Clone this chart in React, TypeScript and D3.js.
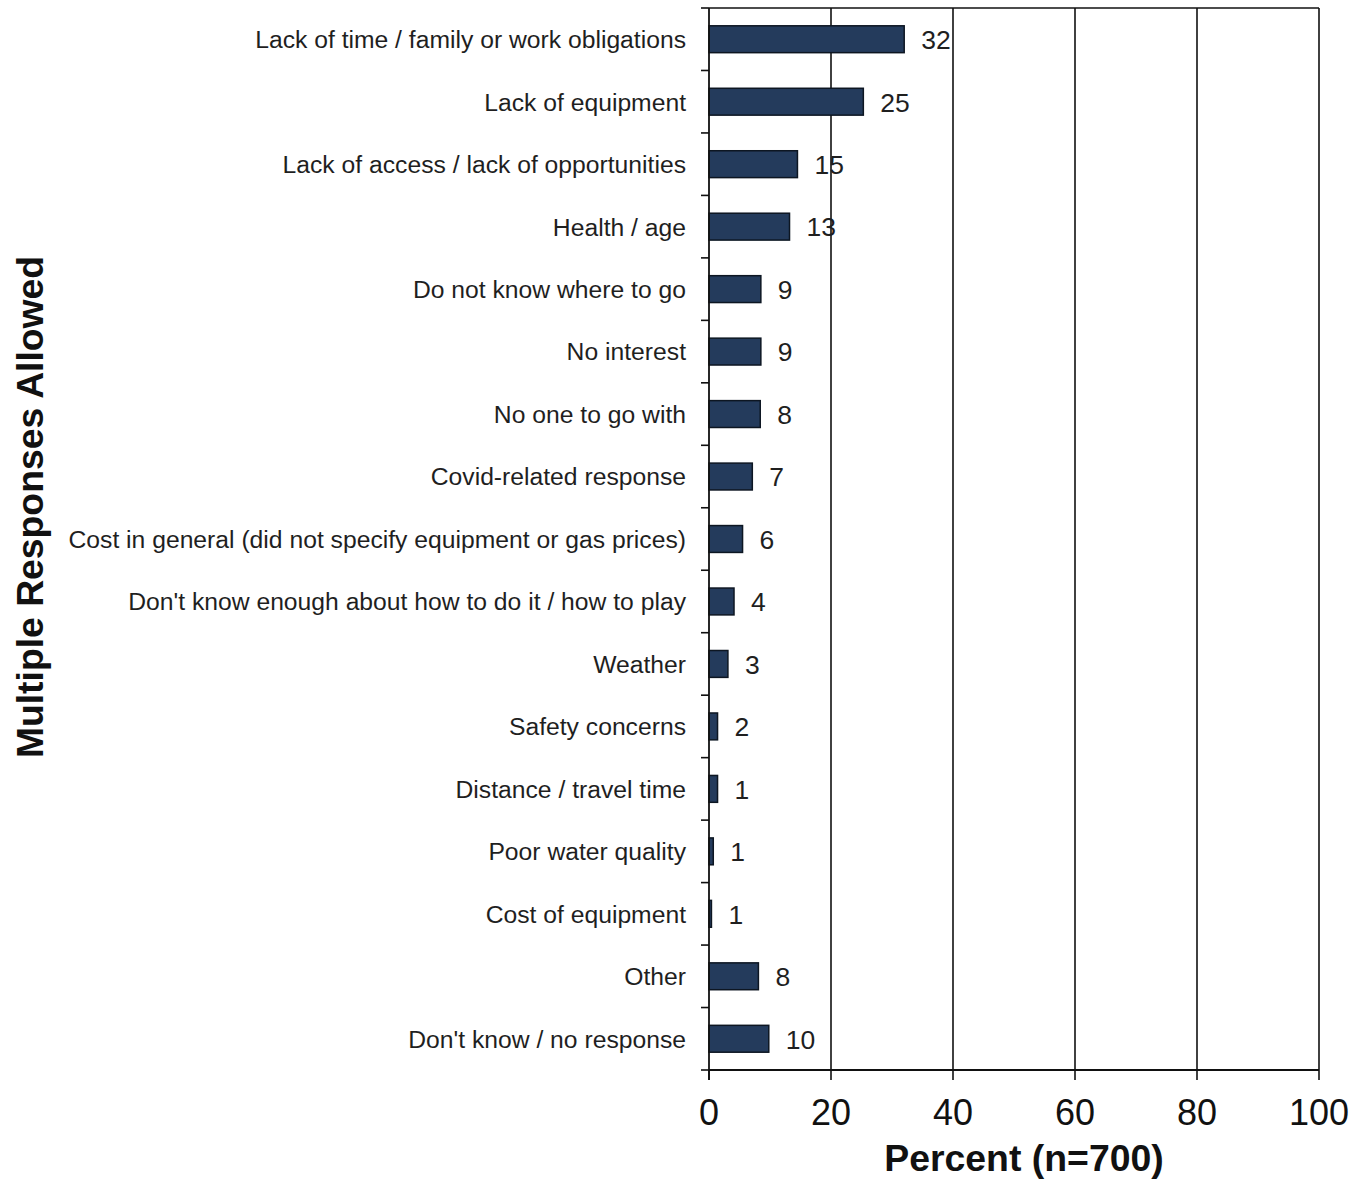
import React from "react";
import * as d3 from "d3";

const categories = [
  "Lack of time / family or work obligations",
  "Lack of equipment",
  "Lack of access / lack of opportunities",
  "Health / age",
  "Do not know where to go",
  "No interest",
  "No one to go with",
  "Covid-related response",
  "Cost in general (did not specify equipment or gas prices)",
  "Don't know enough about how to do it / how to play",
  "Weather",
  "Safety concerns",
  "Distance / travel time",
  "Poor water quality",
  "Cost of equipment",
  "Other",
  "Don't know / no response",
];
const values = [32, 25.3, 14.5, 13.2, 8.5, 8.5, 8.4, 7.1, 5.5, 4.1, 3.1, 1.4, 1.4, 0.7, 0.4, 8.1, 9.8];
const valueLabels = ["32", "25", "15", "13", "9", "9", "8", "7", "6", "4", "3", "2", "1", "1", "1", "8", "10"];
const xTicks = [0, 20, 40, 60, 80, 100];
const xTitle = "Percent (n=700)";
const yTitle = "Multiple Responses Allowed";

const W = 1355;
const H = 1185;
const FONT = "'Liberation Sans', Arial, sans-serif";

export default function App() {
  const x = d3.scaleLinear().domain([0, 100]).range([709, 1319]);
  const y = d3
    .scaleBand<string>()
    .domain(categories)
    .range([8, 1070])
    .paddingInner(0.57)
    .paddingOuter(0.285);
  const step = y.step();
  const top = 8;
  const bottom = 1070;
  const boundaries = d3.range(categories.length + 1).map((i) => top + i * step);

  return (
    <div style={{ position: "absolute", left: 0, top: 0 }}>
      <svg width={W} height={H} style={{ display: "block", background: "#fff" }}>
        {xTicks.slice(1).map((t) => (
          <line key={"g" + t} x1={x(t)} x2={x(t)} y1={top} y2={bottom} stroke="#111" strokeWidth={1.6} />
        ))}
        <line x1={x(0)} x2={x(100)} y1={top} y2={top} stroke="#111" strokeWidth={1.6} />
        {categories.map((c, i) => (
          <rect
            key={c}
            x={x(0)}
            y={y(c)}
            width={x(values[i]) - x(0)}
            height={y.bandwidth()}
            fill="#243b5c"
            stroke="#0d1622"
            strokeWidth={1.5}
          />
        ))}
        {categories.map((c, i) => (
          <text
            key={"v" + c}
            x={x(values[i]) + 17}
            y={(y(c) as number) + y.bandwidth() / 2}
            dy="0.37em"
            fontFamily={FONT}
            fontSize={26.5}
            fill="#1f1f1f"
          >
            {valueLabels[i]}
          </text>
        ))}
        <line x1={x(0)} x2={x(0)} y1={top} y2={bottom + 10} stroke="#111" strokeWidth={1.8} />
        <line x1={x(0)} x2={x(100)} y1={bottom} y2={bottom} stroke="#111" strokeWidth={1.8} />
        {boundaries.map((b, i) => (
          <line key={"yt" + i} x1={x(0) - 8} x2={x(0)} y1={b} y2={b} stroke="#111" strokeWidth={1.6} />
        ))}
        {xTicks.map((t) => (
          <line key={"xt" + t} x1={x(t)} x2={x(t)} y1={bottom} y2={bottom + 10} stroke="#111" strokeWidth={1.6} />
        ))}
        {xTicks.map((t) => (
          <text
            key={"xl" + t}
            x={x(t)}
            y={1125}
            textAnchor="middle"
            fontFamily={FONT}
            fontSize={36}
            fill="#111"
          >
            {t}
          </text>
        ))}
        {categories.map((c) => (
          <text
            key={"c" + c}
            x={686}
            y={(y(c) as number) + y.bandwidth() / 2}
            dy="0.36em"
            textAnchor="end"
            fontFamily={FONT}
            fontSize={24.7}
            fill="#1f1f1f"
          >
            {c}
          </text>
        ))}
        <text x={1024} y={1171} textAnchor="middle" fontFamily={FONT} fontSize={37.4} fontWeight="bold" fill="#111">
          {xTitle}
        </text>
        <text
          transform="translate(43,507) rotate(-90)"
          textAnchor="middle"
          fontFamily={FONT}
          fontSize={37.3}
          fontWeight="bold"
          fill="#111"
        >
          {yTitle}
        </text>
      </svg>
    </div>
  );
}
